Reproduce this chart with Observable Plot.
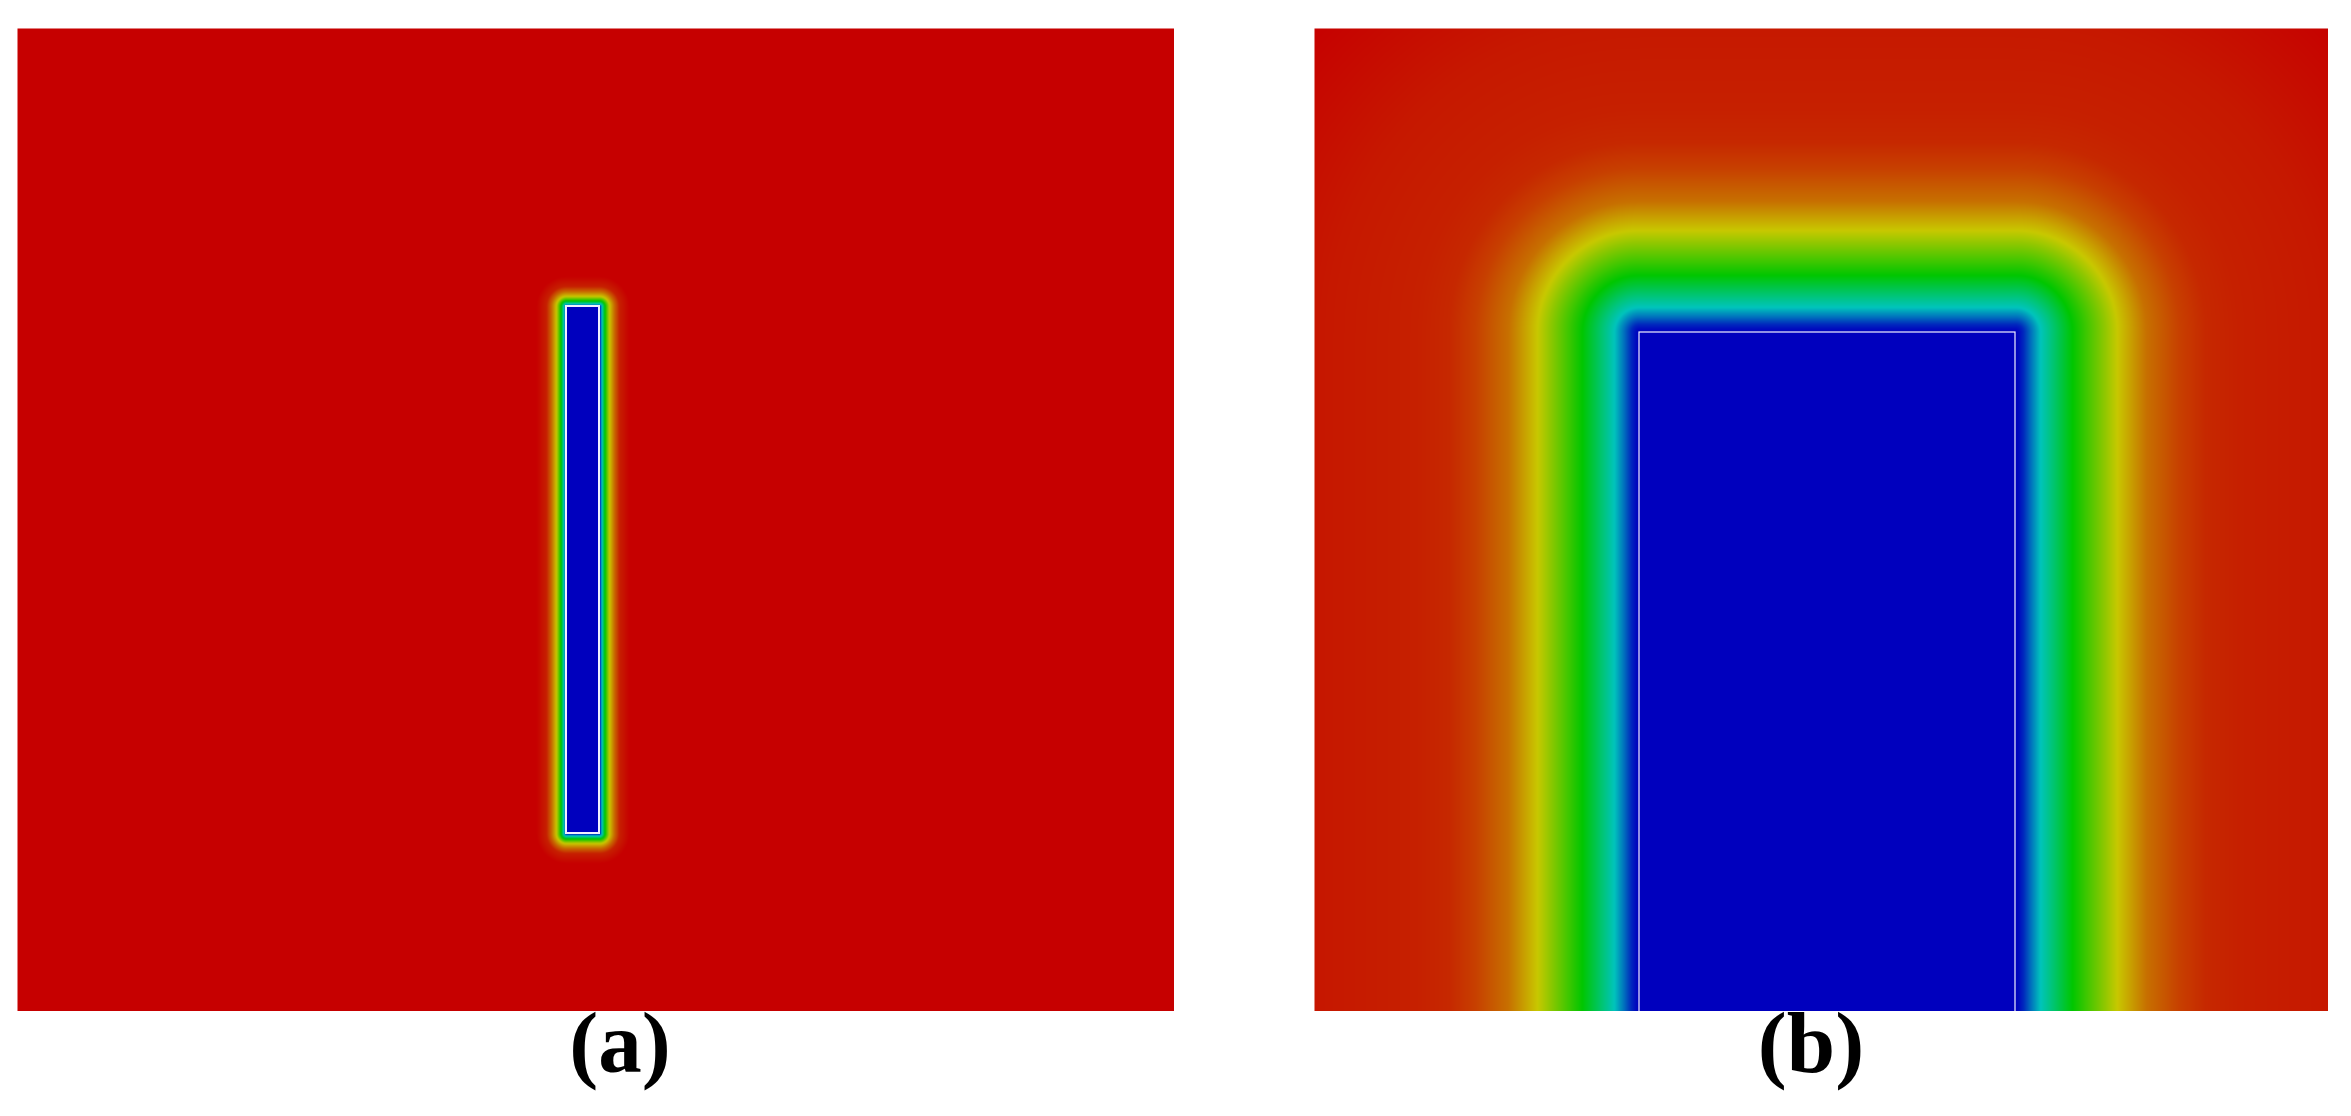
<!DOCTYPE html>
<html>
<head>
<meta charset="utf-8">
<script src="https://cdn.jsdelivr.net/npm/d3@7"></script>
<script src="https://cdn.jsdelivr.net/npm/@observablehq/plot@0.6"></script>
<style>
  html, body { margin: 0; padding: 0; background: #ffffff; width: 2351px; height: 1116px; overflow: hidden; }
  #panelA, #panelB { position: absolute; }
  #panelA { left: 17px; top: 28px; }
  #panelB { left: 1314px; top: 28px; }
  .cap { position: absolute; font-family: "Liberation Serif", "Times New Roman", serif; font-weight: bold;
         font-size: 87px; line-height: 87px; color: #000; text-align: center; width: 300px; top: 999px; }
  #capA { left: 470px; }
  #capB { left: 1661px; }
</style>
</head>
<body>
<div id="panelA"></div>
<div id="panelB"></div>
<div class="cap" id="capA">(a)</div>
<div class="cap" id="capB">(b)</div>
<script>
// ---- Field extents (field units) ----
const fieldAX = [0, 115.7];
const fieldAY = [0, 98.3];
const fieldBX = [0, 101.4];
const fieldBY = [0, 98.3];

// ---- Blue inclusion (rectangle) bounds: [x1, y1, x2, y2], y measured from top ----
const rectA = [54.9, 27.8, 58.2, 80.5];
const rectB = [32.5, 30.4, 70.1, 120];

// ---- Radial profile of the field value vs distance from the inclusion ----
const profileDistA  = [0, 0.1, 0.25, 0.55, 1.0, 1.5, 2.0, 3.0];
const profileValueA = [0, 0.1, 0.25, 0.50, 0.75, 0.87, 0.96, 1.0];

const profileDistB  = [0, 0.3, 0.8, 1.6, 2.5, 5.7, 10.2, 13.1, 16.4, 19.1, 22.4, 31.2, 45];
const profileValueB = [0, 0.01, 0.05, 0.15, 0.25, 0.5, 0.75, 0.86, 0.92, 0.95, 0.96, 0.97, 1.0];

// ---- Colour map stops ----
const colorStops = [0, 0.25, 0.5, 0.75, 1];
const colorRange = ["#0000be", "#00c4bc", "#00c600", "#c8c800", "#c60000"];

function fieldFn(rect, dist, vals) {
  const prof = d3.scaleLinear().domain(dist).range(vals).clamp(true);
  const [x1, y1, x2, y2] = rect;
  return (x, y) => {
    const dx = Math.max(x1 - x, 0, x - x2);
    const dy = Math.max(y1 - y, 0, y - y2);
    return prof(Math.hypot(dx, dy));
  };
}

function panel(fx, fy, rect, dist, vals, w, h, sw) {
  return Plot.plot({
    width: w, height: h,
    margin: 0,
    x: { domain: fx, axis: null },
    y: { domain: fy, reverse: true, axis: null },
    color: { type: "linear", domain: colorStops, range: colorRange, interpolate: "rgb" },
    marks: [
      Plot.raster({
        fill: fieldFn(rect, dist, vals),
        x1: fx[0], x2: fx[1], y1: fy[0], y2: fy[1],
        pixelSize: 1
      }),
      Plot.rect([rect], {
        x1: d => d[0], y1: d => d[1], x2: d => d[2], y2: d => d[3],
        fill: "none", stroke: "#f0f0ff", strokeWidth: sw, clip: "frame"
      })
    ]
  });
}

document.getElementById("panelA").append(
  panel(fieldAX, fieldAY, rectA, profileDistA, profileValueA, 1157, 983, 2)
);
document.getElementById("panelB").append(
  panel(fieldBX, fieldBY, rectB, profileDistB, profileValueB, 1014, 983, 1.2)
);
</script>
</body>
</html>
